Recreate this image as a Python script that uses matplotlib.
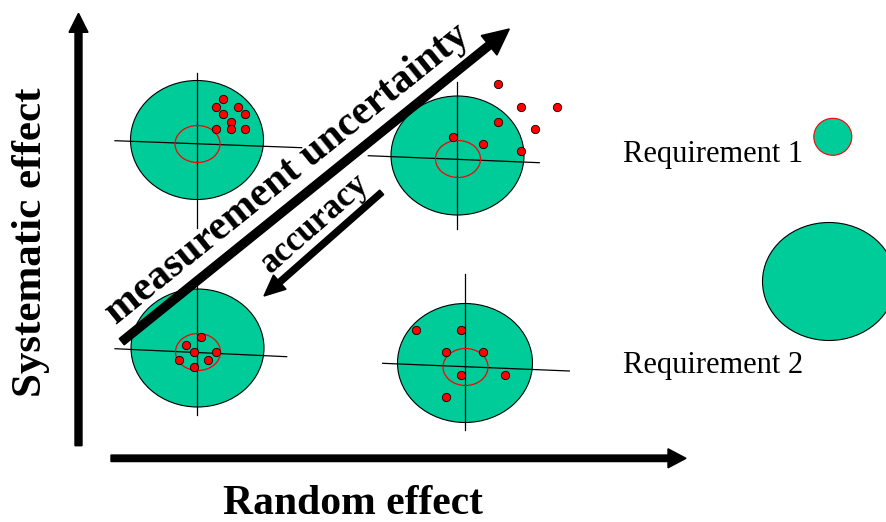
import numpy as np
import matplotlib
matplotlib.use("Agg")
import matplotlib.pyplot as plt
from matplotlib.patches import Ellipse

# ---------------- data ----------------
target_names = ["biased_precise", "biased_imprecise", "unbiased_precise", "unbiased_imprecise"]
target_cx = [197.0, 457.5, 197.5, 465.0]
target_cy = [140.0, 155.5, 348.0, 363.0]

shots_x = [
    [223.3, 215.7, 237.7, 223.3, 245.3, 230.7, 215.7, 230.7, 245.3],
    [498.0, 520.7, 557.3, 498.0, 535.0, 453.3, 483.3, 520.7],
    [200.7, 186.3, 193.7, 216.0, 178.7, 208.3, 193.7],
    [416.3, 460.7, 446.0, 483.3, 460.7, 505.3, 446.0],
]
shots_y = [
    [99.3, 106.7, 106.7, 114.0, 114.0, 121.7, 129.0, 129.0, 129.0],
    [84.3, 106.7, 106.7, 121.7, 129.0, 136.7, 144.0, 151.3],
    [337.3, 344.7, 352.0, 352.0, 359.7, 359.7, 367.3],
    [330.0, 330.0, 352.0, 352.0, 374.7, 374.7, 396.7],
]

x_label = "Random effect"
y_label = "Systematic effect"
arrow_up_label = "measurement uncertainty"
arrow_down_label = "accuracy"
legend_labels = ["Requirement 1", "Requirement 2"]

# ---------------- style ----------------
GREEN = "#00CC99"
RED = "#FF0000"
SERIF = ["Liberation Serif", "DejaVu Serif"]

W, H = 887, 522
fig = plt.figure(figsize=(W / 100, H / 100), dpi=100)
ax = fig.add_axes([0, 0, 1, 1])
ax.set_xlim(0, W)
ax.set_ylim(H, 0)
ax.axis("off")

# geometry of targets (pixels)
big_w = [133, 133, 133, 135]
big_h = [119, 119, 118, 119]
small_dy = [4, 3.5, 4, 4]
vline = [(197.3, 73, 228), (457.3, 81.7, 229), (197.3, 286, 415), (465, 274, 430)]
hline = [((115, 140.7), (301.7, 147.7)), ((368.3, 155.7), (539.3, 162.7)),
         ((115, 348.7), (286.7, 356.7)), ((382.7, 363.3), (569.3, 371))]

for i in range(4):
    cx, cy = target_cx[i], target_cy[i]
    ax.add_patch(Ellipse((cx, cy), big_w[i], big_h[i], facecolor=GREEN,
                         edgecolor="black", lw=0.8, zorder=1))
    vx, y0, y1 = vline[i]
    ax.plot([vx, vx], [y0, y1], color="black", lw=0.9, zorder=2)
    (hx0, hy0), (hx1, hy1) = hline[i]
    ax.plot([hx0, hx1], [hy0, hy1], color="black", lw=0.9, zorder=2)
    ax.add_patch(Ellipse((cx + 0.5, cy + small_dy[i]), 45, 37, facecolor="none",
                         edgecolor=RED, lw=0.9, zorder=3))
    ax.scatter(shots_x[i], shots_y[i], s=36, color=RED, edgecolors="black",
               linewidths=0.6, zorder=4)

# requirement symbols
ax.add_patch(Ellipse((832.8, 136.8), 38, 37, facecolor=GREEN, edgecolor=RED, lw=0.8, zorder=1))
ax.add_patch(Ellipse((829, 281.5), 133, 118, facecolor=GREEN, edgecolor="black", lw=0.8, zorder=1))
ax.text(622.7, 161.7, legend_labels[0], fontsize=22, family=SERIF, ha="left", va="baseline")
ax.text(622.7, 373.3, legend_labels[1], fontsize=22, family=SERIF, ha="left", va="baseline")

# axes arrows
ax.arrow(78.5, 445.7, 0, 13.3 - 445.7, width=7, head_width=19, head_length=19,
         length_includes_head=True, color="black", zorder=5)
ax.arrow(111, 458.3, 686 - 111, 0, width=6.5, head_width=19, head_length=18,
         length_includes_head=True, color="black", zorder=5)

# measurement uncertainty arrow
t0 = np.array([121.7, 341.7]); t1 = np.array([509.3, 29.0])
ax.arrow(t0[0], t0[1], t1[0] - t0[0], t1[1] - t0[1], width=8, head_width=25,
         head_length=26, length_includes_head=True, color="black", zorder=5)
d = (t1 - t0) / np.linalg.norm(t1 - t0)
n = np.array([d[1], -d[0]])  # up-left normal
ang = np.degrees(np.arctan2(-(t1 - t0)[1], (t1 - t0)[0]))
p = t0 + d * 234 + n * 16
ax.text(p[0], p[1], arrow_up_label, fontsize=30, fontweight="bold", family=SERIF,
        rotation=ang, rotation_mode="anchor", ha="center", va="baseline", zorder=6)

# accuracy arrow
a0 = np.array([381.7, 192.3]); a1 = np.array([264.0, 296.0])
ax.arrow(a0[0], a0[1], a1[0] - a0[0], a1[1] - a0[1], width=6, head_width=19,
         head_length=21, length_includes_head=True, color="black", zorder=5)
u = (a0 - a1) / np.linalg.norm(a0 - a1)
m = np.array([u[1], -u[0]])
ang2 = np.degrees(np.arctan2(-(a0 - a1)[1], (a0 - a1)[0]))
q = a1 + u * 86 + m * 12
ax.text(q[0], q[1], arrow_down_label, fontsize=25, fontweight="bold", family=SERIF,
        rotation=ang2, rotation_mode="anchor", ha="center", va="baseline", zorder=6)

# axis labels
ax.text(352.5, 514, x_label, fontsize=30, fontweight="bold", family=SERIF,
        ha="center", va="baseline")
ax.text(41, 242.5, y_label, fontsize=31, fontweight="bold", family=SERIF,
        rotation=90, rotation_mode="anchor", ha="center", va="baseline")

fig.savefig("out.png", dpi=100)
